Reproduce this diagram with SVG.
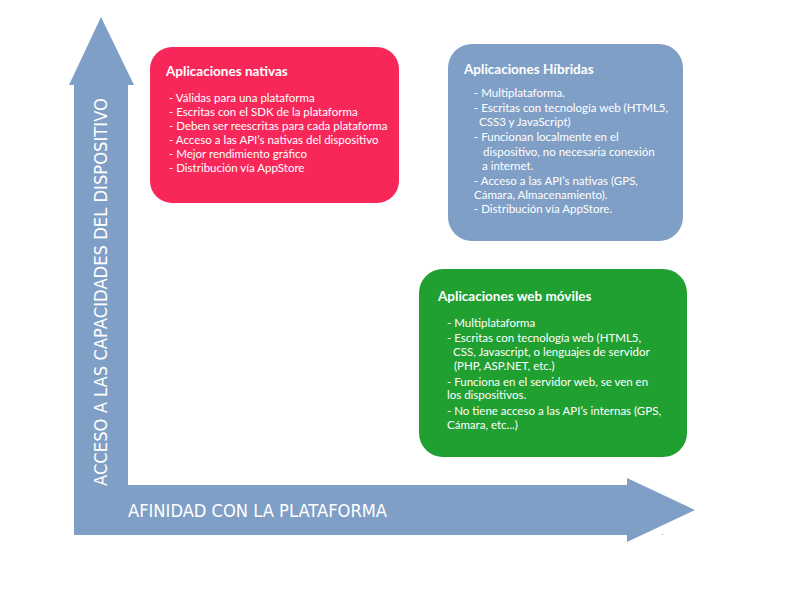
<svg xmlns="http://www.w3.org/2000/svg" width="800" height="600" viewBox="0 0 800 600">
<style>
.ax{fill:#7F9FC6}
.lbl{font-family:"DejaVu Sans",Verdana,sans-serif;font-size:17px;fill:#ffffff}
.t{font-family:Lato,"Liberation Sans",sans-serif;font-weight:bold;font-size:13.5px;fill:#ffffff}
.b{font-family:Lato,"Liberation Sans",sans-serif;font-size:11.5px;fill:#ffffff}
</style>
<rect width="800" height="600" fill="#ffffff"/>
<g id="axes">
<polygon class="ax" points="101,17 134,85 128,85 128,485 627,485 627,478 695,510 627,542 627,535 74,535 74,85 69,85"/>
<rect x="662" y="534" width="1" height="1" fill="#7F9FC6"/>
<text class="lbl" x="128" y="517" textLength="259" lengthAdjust="spacingAndGlyphs">AFINIDAD CON LA PLATAFORMA</text>
<text class="lbl" transform="translate(107,486) rotate(-90)" x="0" y="0" textLength="388" lengthAdjust="spacingAndGlyphs">ACCESO A LAS CAPACIDADES DEL DISPOSITIVO</text>
</g>
<g id="nativas">
<rect x="150" y="47" width="249" height="156" rx="22" fill="#F72859"/>
<text class="t" x="166" y="76">Aplicaciones nativas</text>
<text class="b" x="169" y="102">- Válidas para una plataforma</text>
<text class="b" x="169" y="116">- Escritas con el SDK de la plataforma</text>
<text class="b" x="169" y="130">- Deben ser reescritas para cada plataforma</text>
<text class="b" x="169" y="144">- Acceso a las API’s nativas del dispositivo</text>
<text class="b" x="169" y="158">- Mejor rendimiento gráfico</text>
<text class="b" x="169" y="172">- Distribución vía AppStore</text>
</g>
<g id="hibridas">
<rect x="448" y="44" width="235" height="197" rx="24" fill="#7F9FC6"/>
<text class="t" x="464" y="74">Aplicaciones Híbridas</text>
<text class="b" x="474" y="97">- Multiplataforma.</text>
<text class="b" x="474" y="112">- Escritas con tecnología web (HTML5,</text>
<text class="b" x="479" y="126">CSS3 y JavaScript)</text>
<text class="b" x="474" y="141">- Funcionan localmente en el</text>
<text class="b" x="483" y="156">dispositivo, no necesaria conexión</text>
<text class="b" x="482" y="170">a internet.</text>
<text class="b" x="474" y="185">- Acceso a las API’s nativas (GPS,</text>
<text class="b" x="474" y="199">Cámara, Almacenamiento).</text>
<text class="b" x="474" y="213">- Distribución vía AppStore.</text>
</g>
<g id="web">
<rect x="419" y="269" width="268" height="188" rx="24" fill="#21A032"/>
<text class="t" x="438" y="301">Aplicaciones web móviles</text>
<text class="b" x="447" y="327">- Multiplataforma</text>
<text class="b" x="447" y="342">- Escritas con tecnología web (HTML5,</text>
<text class="b" x="453" y="356">CSS, Javascript, o lenguajes de servidor</text>
<text class="b" x="454" y="370">(PHP, ASP.NET, etc.)</text>
<text class="b" x="447" y="386">- Funciona en el servidor web, se ven en</text>
<text class="b" x="447" y="399">los dispositivos.</text>
<text class="b" x="447" y="415">- No tiene acceso a las API’s internas (GPS,</text>
<text class="b" x="447" y="429">Cámara, etc...)</text>
</g>
<g id="connectors"></g>
</svg>
